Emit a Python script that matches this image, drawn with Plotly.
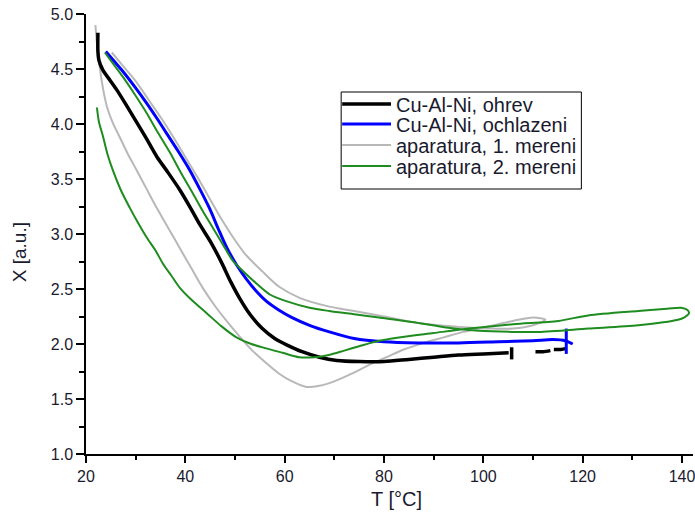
import plotly.graph_objects as go

# ---------------- data ----------------
# Cu-Al-Ni, heating (gaps = breaks in the recorded trace)
black_T = [22.4, 22.4, 22.6, 23.4, 24.8, 26.2, 28.0, 29.6, 32.0, 34.3, 36.5, 38.9, 41.0, 43.0,
           45.2, 47.3, 49.2, 51.0, 53.0, 55.5, 58.0, 60.5, 63.5, 67.0, 70.5, 75.0, 80.0, 85.0,
           90.0, 95.0, 100.0, 105.1, None, 105.7, 105.7, None,
           110.5, 112.0, 113.5, None, 114.2, 115.6, 116.8]
black_X = [4.83, 4.66, 4.58, 4.49, 4.40, 4.31, 4.18, 4.06, 3.88, 3.70, 3.56, 3.40, 3.24, 3.08,
           2.92, 2.74, 2.56, 2.41, 2.27, 2.14, 2.05, 1.99, 1.93, 1.88, 1.85, 1.84, 1.84, 1.86,
           1.88, 1.90, 1.91, 1.92, None, 1.97, 1.86, None,
           1.93, 1.93, 1.94, None, 1.95, 1.95, 1.96]

# Cu-Al-Ni, cooling
blue_T = [24.0, 25.5, 27.4, 29.8, 32.2, 34.3, 36.3, 38.6, 40.9, 42.9, 44.9, 46.6, 48.3, 50.3,
          52.3, 54.3, 56.3, 58.8, 61.5, 65.0, 69.0, 74.0, 80.0, 87.0, 95.0, 103.0, 110.0, 114.0,
          116.5, 118.0, None, 116.7, 116.7]
blue_X = [4.66, 4.58, 4.48, 4.34, 4.19, 4.05, 3.91, 3.75, 3.58, 3.41, 3.23, 3.05, 2.88, 2.72,
          2.59, 2.48, 2.39, 2.31, 2.24, 2.17, 2.11, 2.05, 2.02, 2.01, 2.01, 2.02, 2.03, 2.04,
          2.03, 2.00, None, 2.14, 1.91]

# apparatus, 1st measurement
gray_T = [21.9, 22.1, 22.5, 23.2, 24.2, 25.4, 26.8, 28.4, 30.2, 32.2, 34.2, 36.5, 38.9, 41.2,
          43.5, 45.9, 48.3, 50.9, 53.5, 56.2, 58.9, 61.5, 64.4, 67.0, 70.0, 73.5, 77.0, 80.5,
          84.0, 88.0, 92.0, 96.0, 100.0, 104.0, 107.1, 110.1, 112.5,
          110.0, 106.0, 102.0, 97.0, 91.0, 85.6, 80.0, 74.0, 69.0, 63.0, 58.9, 55.5, 52.0,
          49.6, 47.2, 44.8, 42.4, 40.0, 37.6, 35.2, 32.6, 30.0, 27.6, 25.2]
gray_X = [4.90, 4.78, 4.62, 4.38, 4.16, 4.01, 3.88, 3.73, 3.58, 3.41, 3.24, 3.06, 2.87, 2.69,
          2.51, 2.35, 2.21, 2.07, 1.94, 1.83, 1.73, 1.66, 1.61, 1.62, 1.66, 1.73, 1.81, 1.88,
          1.95, 2.01, 2.06, 2.11, 2.15, 2.19, 2.22, 2.24, 2.22,
          2.17, 2.14, 2.14, 2.15, 2.17, 2.20, 2.25, 2.30, 2.34, 2.42, 2.52, 2.66, 2.82,
          2.97, 3.14, 3.33, 3.52, 3.70, 3.88, 4.05, 4.22, 4.39, 4.52, 4.65]

# apparatus, 2nd measurement
green_T = [22.2, 22.6, 23.4, 24.3, 25.4, 27.0, 28.8, 30.5, 32.2, 34.0, 35.5, 37.2, 38.9, 41.5,
           44.3, 47.3, 50.3, 53.3, 56.3, 59.6, 62.9, 66.0, 68.9, 72.0, 75.0, 79.0, 83.0, 90.0,
           97.1, 106.0, 115.1, 121.1, 131.2, 137.0, 139.8, 141.1, 141.4, 140.4, 139.2, 131.2,
           121.1, 111.1, 105.7, 99.1, 92.5, 85.6, 79.0, 74.0, 69.0, 65.0, 60.3, 57.0, 54.3,
           51.9, 49.5, 47.5, 45.5, 43.5, 41.5, 39.2, 36.9, 34.5, 32.2, 29.8, 27.4, 25.6, 23.8]
green_X = [4.15, 4.02, 3.89, 3.73, 3.58, 3.40, 3.24, 3.10, 2.97, 2.85, 2.73, 2.62, 2.51, 2.39,
           2.28, 2.16, 2.06, 2.00, 1.96, 1.92, 1.88, 1.88, 1.90, 1.94, 1.98, 2.03, 2.06, 2.10,
           2.14, 2.18, 2.21, 2.26, 2.30, 2.32, 2.33, 2.31, 2.28, 2.24, 2.22, 2.17,
           2.14, 2.11, 2.11, 2.12, 2.15, 2.20, 2.24, 2.27, 2.30, 2.33, 2.39, 2.45, 2.55,
           2.65, 2.76, 2.91, 3.06, 3.21, 3.37, 3.55, 3.74, 3.92, 4.10, 4.27, 4.43, 4.54, 4.65]

series_names = ["Cu-Al-Ni, ohrev", "Cu-Al-Ni, ochlazeni", "aparatura, 1. mereni", "aparatura, 2. mereni"]
x_ticks = [20, 40, 60, 80, 100, 120, 140]
x_minor = [30, 50, 70, 90, 110, 130]
y_ticks = [1.0, 1.5, 2.0, 2.5, 3.0, 3.5, 4.0, 4.5, 5.0]
y_minor = [1.25, 1.75, 2.25, 2.75, 3.25, 3.75, 4.25, 4.75]

# ---------------- styling ----------------
colors = ["#000000", "#0000ff", "#b8b8b8", "#1e8c1e"]
widths = [3.5, 3.0, 2.0, 2.0]
FONT = "Liberation Sans, Arial, sans-serif"
TXT = "#1a1a2e"

fig = go.Figure()
data = [(black_T, black_X), (blue_T, blue_X), (gray_T, gray_X), (green_T, green_X)]
for idx in [2, 0, 1, 3]:
    t, x = data[idx]
    fig.add_trace(go.Scatter(x=t, y=x, mode="lines", name=series_names[idx],
                             line=dict(color=colors[idx], width=widths[idx], shape="spline",
                                       smoothing=0.8),
                             connectgaps=False, showlegend=False, hoverinfo="skip"))

W, H = 695, 517
ML, MR, MT, MB = 86, 0, 14, 63
PW, PH = W - ML - MR, H - MT - MB


def px2paper(px, py):
    return (px - ML) / PW, (H - MB - py) / PH


# Origin-style legend box
lx0, ly0 = px2paper(342, 92)
lx1, ly1 = px2paper(583, 189)
fig.add_shape(type="rect", xref="paper", yref="paper", x0=lx0, y0=ly1, x1=lx1, y1=ly0,
              line=dict(color="black", width=1), fillcolor="white", layer="above")
row_y = [104, 124, 145, 166]
for i, name in enumerate(series_names):
    sx0, sy = px2paper(343, row_y[i])
    sx1, _ = px2paper(392, row_y[i])
    fig.add_shape(type="line", xref="paper", yref="paper", x0=sx0, x1=sx1, y0=sy, y1=sy,
                  line=dict(color=colors[i], width=widths[i]), layer="above")
    tx, ty = px2paper(395, row_y[i] + 1)
    fig.add_annotation(x=tx, y=ty, xref="paper", yref="paper", text=name, showarrow=False,
                       xanchor="left", yanchor="middle",
                       font=dict(family=FONT, size=20, color=TXT))

# axis titles
ax, ay = px2paper(398, 499)
fig.add_annotation(x=ax, y=ay, xref="paper", yref="paper", text="T [°C]", showarrow=False,
                   xanchor="center", yanchor="middle", font=dict(family=FONT, size=20, color=TXT))
bx, by = px2paper(19, 252)
fig.add_annotation(x=bx, y=by, xref="paper", yref="paper", text="X [a.u.]", showarrow=False,
                   textangle=-90, xanchor="center", yanchor="middle",
                   font=dict(family=FONT, size=19, color=TXT))

fig.update_xaxes(range=[20, 20 + PW / 4.983], tickvals=x_ticks, ticks="outside", ticklen=7,
                 tickwidth=1.5, tickcolor="black", showline=True, linecolor="black", linewidth=1.5,
                 showgrid=False, zeroline=False, ticklabeloverflow="allow",
                 minor=dict(tickvals=x_minor, ticks="outside", ticklen=4,
                            tickwidth=1.5, tickcolor="black"),
                 tickfont=dict(family=FONT, size=16, color=TXT))
fig.update_yaxes(range=[1.0, 5.0], tickvals=y_ticks, tickformat=".1f", ticks="outside", ticklen=8,
                 tickwidth=1.5, tickcolor="black", showline=True, linecolor="black", linewidth=1.5,
                 showgrid=False, zeroline=False,
                 minor=dict(tickvals=y_minor, ticks="outside",
                            ticklen=5, tickwidth=1.5, tickcolor="black"),
                 tickfont=dict(family=FONT, size=16, color=TXT))

fig.update_layout(width=W, height=H, margin=dict(l=ML, r=MR, t=MT, b=MB),
                  plot_bgcolor="white", paper_bgcolor="white", showlegend=False)

fig.write_html("out.html")
